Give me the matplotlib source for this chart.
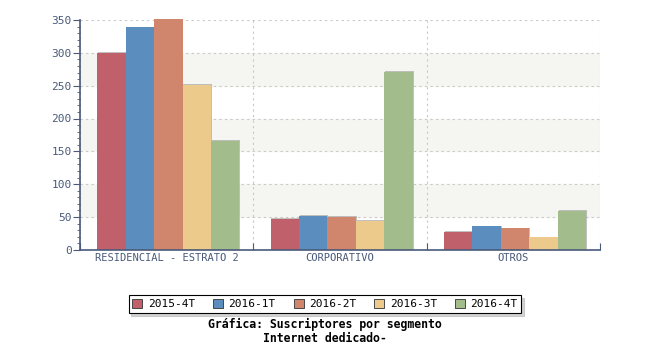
import matplotlib.pyplot as plt
import numpy as np
from matplotlib.patches import Patch

segments = ['RESIDENCIAL - ESTRATO 2', 'CORPORATIVO', 'OTROS']
periods = ['2015-4T', '2016-1T', '2016-2T', '2016-3T', '2016-4T']
v_2015_4 = [300, 47, 28]
v_2016_1 = [339, 52, 36]
v_2016_2 = [351, 50, 33]
v_2016_3 = [251, 44, 19]
v_2016_4 = [166, 271, 59]
series = [v_2015_4, v_2016_1, v_2016_2, v_2016_3, v_2016_4]
colors = ['#bf606a', '#5b8ebe', '#cf866d', '#ebca8b', '#a3bc8b']

plt.rcParams['font.family'] = 'DejaVu Sans Mono'
axcol = '#4a5a7a'

fig = plt.figure(figsize=(6.5, 3.5), dpi=100)
ax = fig.add_axes([0.123, 0.286, 0.8, 0.657])

# alternating background bands
for lo in [50, 150, 250]:
    ax.axhspan(lo, lo + 50, color='#f5f5f1', zorder=0)

n = len(series)
bw = 0.82 / n
x = np.arange(len(segments)) + 0.5
for i, (vals, c) in enumerate(zip(series, colors)):
    pos = x - 0.40 + bw * (i + 0.5)
    # small shadow
    ax.bar(pos + 0.005, np.array(vals) + 1, bw, color='#999999', alpha=0.6, zorder=2, clip_on=False)
    ax.bar(pos, vals, bw, color=c, zorder=3, clip_on=False)

ax.set_xlim(0, 3)
ax.set_ylim(0, 350)
ax.set_yticks(np.arange(0, 351, 50))
ax.set_yticks(np.arange(0, 351, 10), minor=True)
ax.set_xticks([0, 1, 2, 3])
ax.set_xticklabels([])
ax.set_xticks(x, minor=True)
ax.set_xticklabels(segments, minor=True)
ax.tick_params(axis='x', which='minor', length=0, pad=2, labelsize=7.5, colors=axcol)
ax.tick_params(axis='x', which='major', length=5, direction='in', color=axcol)
ax.tick_params(axis='y', which='major', length=5, direction='out', labelsize=8, colors=axcol, pad=1)
ax.tick_params(axis='y', which='minor', length=2, direction='out', color=axcol)

ax.grid(True, which='major', linestyle=(0, (2, 3)), color='#c8c8c8', linewidth=0.8, zorder=1)
ax.set_axisbelow(True)
for s in ['top', 'right']:
    ax.spines[s].set_visible(False)
for s in ['left', 'bottom']:
    ax.spines[s].set_color(axcol)
    ax.spines[s].set_linewidth(1.2)
    ax.spines[s].set_zorder(5)

handles = [Patch(facecolor=c, edgecolor='#333333', linewidth=0.6) for c in colors]
leg = fig.legend(handles, periods, ncol=5, loc='center', bbox_to_anchor=(0.5, 0.131),
                 frameon=True, fancybox=False, shadow={'ox': 2, 'oy': -2, 'color': '#aaaaaa'},
                 edgecolor='black',
                 fontsize=8, handlelength=0.9, handleheight=0.9, columnspacing=1.6,
                 handletextpad=0.5, borderpad=0.35)
leg.get_frame().set_linewidth(0.8)

fig.text(0.5, 0.073, 'Gráfica: Suscriptores por segmento', ha='center', va='center',
         fontsize=8.3, fontweight='bold')
fig.text(0.5, 0.033, 'Internet dedicado-', ha='center', va='center',
         fontsize=8.3, fontweight='bold')

fig.savefig('out.png', dpi=100)
